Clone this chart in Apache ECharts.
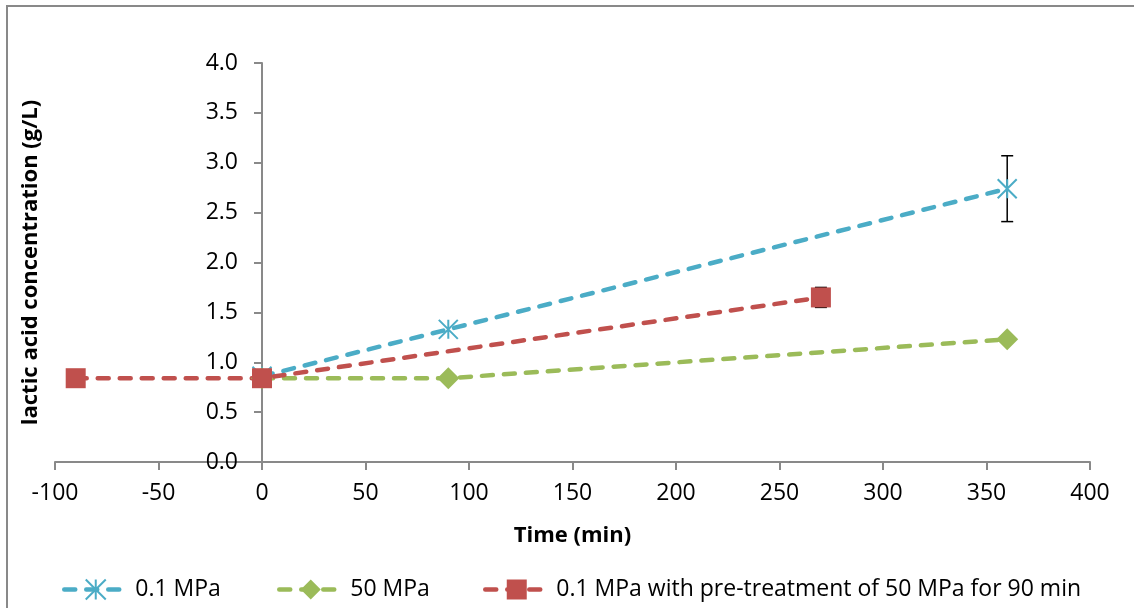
<!DOCTYPE html>
<html><head><meta charset="utf-8">
<script src="https://cdn.jsdelivr.net/npm/echarts@6/dist/echarts.min.js"></script>
<style>html,body{margin:0;padding:0;background:#fff}#c{width:1134px;height:608px}</style>
</head><body><div id="c"></div>
<script>
// ---- data ----
const seriesNames = ['0.1 MPa', '50 MPa', '0.1 MPa with pre-treatment of 50 MPa for 90 min'];
const timeBlue = [0, 90, 360];
const concBlue = [0.86, 1.33, 2.74];
const timeGreen = [0, 90, 360];
const concGreen = [0.84, 0.84, 1.23];
const timeRed = [-90, 0, 270];
const concRed = [0.84, 0.84, 1.65];
const errBlueX = [360];
const errBlueY = [2.74];
const errBlueSd = [0.33];
const errRedX = [270];
const errRedY = [1.65];
const errRedSd = [0.10];
const xRange = [-100, 400, 50];
const yRange = [0, 4, 0.5];
const xTitle = 'Time (min)';
const yTitle = 'lactic acid concentration (g/L)';

// ---- build ----
const FONT = 'Open Sans';
const AXIS_COLOR = '#898989';
const colors = ['#4BACC6', '#9BBB59', '#C0504D'];
const GRID_LEFT = 55, GRID_RIGHT = 44;
const zip = (xs, ys) => xs.map((x, i) => [x, ys[i]]);
const zip3 = (xs, ys, es) => xs.map((x, i) => [x, ys[i], es[i]]);
const asterisk = 'path://M0,0L20,20M20,0L0,20M10,0L10,20';
// place the y axis where x = 0 (line, ticks, labels and name together)
const plotW = 1134 - GRID_LEFT - GRID_RIGHT;
const yAxisShift = (0 - xRange[0]) / (xRange[1] - xRange[0]) * plotW;

function errRender(params, api) {
  const x = api.value(0), y = api.value(1), e = api.value(2);
  const t = api.coord([x, y + e]);
  const b = api.coord([x, y - e]);
  const hw = 6;
  const st = { stroke: '#000', lineWidth: 1.5 };
  return {
    type: 'group',
    children: [
      { type: 'line', shape: { x1: t[0], y1: t[1], x2: b[0], y2: b[1] }, style: st },
      { type: 'line', shape: { x1: t[0] - hw, y1: t[1], x2: t[0] + hw, y2: t[1] }, style: st },
      { type: 'line', shape: { x1: b[0] - hw, y1: b[1], x2: b[0] + hw, y2: b[1] }, style: st }
    ]
  };
}

function lineSeries(name, data, color, symbol, size) {
  return {
    name, type: 'line', data, symbol, symbolSize: size, showAllSymbol: true,
    lineStyle: { color, width: 4.5, type: [11, 11], cap: 'round' },
    itemStyle: { color, borderColor: color, borderWidth: symbol === asterisk ? 2 : 0 },
    emphasis: { disabled: true }, animation: false
  };
}

const legendCommon = {
  orient: 'horizontal', top: 573, itemWidth: 63, itemHeight: 25,
  textStyle: { fontFamily: FONT, fontSize: 23, color: '#000', padding: [0, 0, 0, 3] },
  lineStyle: { width: 4.5, cap: 'round' },
  selectedMode: false
};

const option = {
  backgroundColor: '#fff',
  animation: false,
  grid: { left: GRID_LEFT, right: GRID_RIGHT, top: 63, bottom: 146, containLabel: false, outerBoundsMode: 'none' },
  xAxis: {
    type: 'value', min: xRange[0], max: xRange[1], interval: xRange[2],
    name: xTitle, nameLocation: 'middle', nameGap: 63,
    nameTextStyle: { fontFamily: FONT, fontSize: 22, fontWeight: 'bold', color: '#000' },
    axisLine: { show: true, onZero: true, lineStyle: { color: AXIS_COLOR, width: 2 } },
    axisTick: { show: true, inside: false, length: 8, lineStyle: { color: AXIS_COLOR, width: 2 } },
    axisLabel: { fontFamily: FONT, fontSize: 23, color: '#000', margin: 20 },
    splitLine: { show: false }
  },
  yAxis: {
    type: 'value', min: yRange[0], max: yRange[1], interval: yRange[2],
    offset: -yAxisShift,
    name: yTitle, nameLocation: 'middle', nameGap: 220,
    nameTextStyle: { fontFamily: FONT, fontSize: 22, fontWeight: 'bold', color: '#000' },
    axisLine: { show: true, onZero: false, lineStyle: { color: AXIS_COLOR, width: 2 } },
    axisTick: { show: true, inside: false, length: 8, lineStyle: { color: AXIS_COLOR, width: 2 } },
    axisLabel: { fontFamily: FONT, fontSize: 23, color: '#000', margin: 24, formatter: v => v.toFixed(1) },
    splitLine: { show: false }
  },
  legend: [
    Object.assign({}, legendCommon, { left: 57, data: [seriesNames[0]] }),
    Object.assign({}, legendCommon, { left: 272, data: [seriesNames[1]] }),
    Object.assign({}, legendCommon, { left: 478, data: [seriesNames[2]] })
  ],
  graphic: [{
    type: 'rect', silent: true, z: -10,
    shape: { x: 7, y: 6, width: 1140, height: 620 },
    style: { fill: 'none', stroke: AXIS_COLOR, lineWidth: 2 }
  }],
  series: [
    lineSeries(seriesNames[0], zip(timeBlue, concBlue), colors[0], asterisk, 19),
    { type: 'custom', name: 'err0', renderItem: errRender, data: zip3(errBlueX, errBlueY, errBlueSd), z: 3, silent: true },
    lineSeries(seriesNames[1], zip(timeGreen, concGreen), colors[1], 'diamond', 22),
    { type: 'custom', name: 'err2', renderItem: errRender, data: zip3(errRedX, errRedY, errRedSd), z: 1, silent: true },
    lineSeries(seriesNames[2], zip(timeRed, concRed), colors[2], 'rect', 20)
  ]
};

const chart = echarts.init(document.getElementById('c'), null, { renderer: 'canvas' });
chart.setOption(option);
</script>
</body></html>
